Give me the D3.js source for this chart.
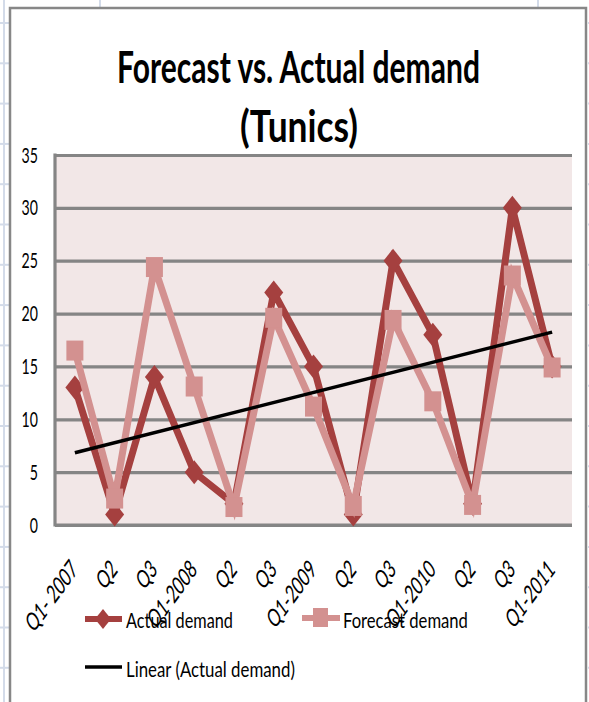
<!DOCTYPE html>
<html><head><meta charset="utf-8">
<script src="https://cdn.jsdelivr.net/npm/d3@7/dist/d3.min.js"></script>
<style>
html,body{margin:0;padding:0;background:#fff;overflow:hidden;}
text{font-family:Lato,"Open Sans",sans-serif;}
</style></head>
<body>
<svg id="chart" width="589" height="702"></svg>
<script>
const categories = ["Q1- 2007","Q2","Q3","Q1-2008","Q2","Q3","Q1-2009","Q2","Q3","Q1-2010","Q2","Q3","Q1-2011"];
const actualDemand = [13, 1, 14, 5, 2, 22, 15, 1, 25, 18, 2, 30, 15];
const forecastDemand = [16.5, 2.5, 24.4, 13.1, 1.7, 19.6, 11.2, 1.8, 19.4, 11.7, 1.9, 23.6, 14.9];
const yTicks = [0, 5, 10, 15, 20, 25, 30, 35];
const titleLines = ["Forecast vs. Actual demand", "(Tunics)"];
const legendLabels = ["Actual demand", "Forecast demand", "Linear (Actual demand)"];

const svg = d3.select("#chart");
const W = 589, H = 702;
const plot = {left: 55, right: 572, top: 155, bottom: 525};

// horizontally scale a text (anchored at x=0 inside a translated group) to a target width
function fitWidth(g, target) {
  const t = g.select("text").node();
  const w = t.getComputedTextLength();
  d3.select(t).attr("transform", `scale(${target / w},1)`);
}
function squeeze(sel, factor) {
  sel.each(function () {
    const w = this.getComputedTextLength();
    d3.select(this).attr("textLength", w * factor).attr("lengthAdjust", "spacingAndGlyphs");
  });
}

// spreadsheet background
const sheet = svg.append("g").attr("stroke", "#d3dbe9").attr("stroke-width", 2);
sheet.append("line").attr("x1", 4).attr("x2", 4).attr("y1", 0).attr("y2", H);
d3.range(0, 17).forEach(i => {
  const yy = 23 + i * 40.3;
  sheet.append("line").attr("x1", 0).attr("x2", 9).attr("y1", yy).attr("y2", yy);
  sheet.append("line").attr("x1", 588).attr("x2", 589).attr("y1", yy).attr("y2", yy);
});
[100, 538].forEach(xx => sheet.append("line").attr("x1", xx).attr("x2", xx).attr("y1", 0).attr("y2", 7));

// chart area
svg.append("rect").attr("x", 10).attr("y", 8).attr("width", 576).attr("height", H + 10)
  .attr("fill", "#fff").attr("stroke", "#878787").attr("stroke-width", 2.5);

// title
[[titleLines[0], 298.5, 83, 363], [titleLines[1], 299, 142, 118]].forEach(([txt, cx, by, tw]) => {
  const g = svg.append("g").attr("transform", `translate(${cx},${by})`);
  g.append("text").attr("text-anchor", "middle").attr("font-weight", "bold").attr("font-size", 44)
    .attr("fill", "#000").text(txt);
  fitWidth(g, tw);
});

// scales
const x = d3.scalePoint().domain(d3.range(categories.length)).range([plot.left, plot.right]).padding(0.5);
const y = d3.scaleLinear().domain([0, 35]).range([plot.bottom, plot.top]);

// plot background
svg.append("rect").attr("x", plot.left).attr("y", plot.top)
  .attr("width", plot.right - plot.left).attr("height", plot.bottom - plot.top).attr("fill", "#f2e7e7");

// gridlines
const grid = svg.append("g").attr("transform", `translate(${plot.left},0)`)
  .call(d3.axisLeft(y).tickValues(yTicks).tickSize(-(plot.right - plot.left)).tickFormat(""));
grid.select(".domain").remove();
grid.selectAll("line").attr("stroke", "#858585").attr("stroke-width", 3.2);

// axes lines
svg.append("line").attr("x1", plot.left).attr("x2", plot.left).attr("y1", plot.top - 1.5).attr("y2", plot.bottom + 1.5)
  .attr("stroke", "#858585").attr("stroke-width", 3.2);
svg.append("line").attr("x1", plot.left).attr("x2", plot.right).attr("y1", plot.bottom).attr("y2", plot.bottom)
  .attr("stroke", "#858585").attr("stroke-width", 3.2);

// y tick labels
svg.append("g").selectAll("text").data(yTicks).join("text")
  .attr("x", 38).attr("y", d => y(d) + 7.5).attr("text-anchor", "end").attr("font-size", 21).attr("fill", "#000")
  .attr("textLength", d => String(d).length * 8.2).attr("lengthAdjust", "spacingAndGlyphs")
  .text(d => d);

// x tick labels
svg.append("g").selectAll("text").data(categories).join("text")
  .attr("transform", (d, i) => `translate(${x(i) + 4},${plot.bottom + 46}) scale(1,1.38) rotate(-45)`)
  .attr("text-anchor", "end").attr("font-size", 19).attr("fill", "#000")
  .text(d => d)
  .call(squeeze, 0.78);

// series
const colA = "#a5403f", colF = "#d39190";
const line = d3.line().x((d, i) => x(i)).y(d => y(d));
const diamond = (w, h) => `M0,${-h}L${w},0L0,${h}L${-w},0Z`;

svg.append("path").datum(actualDemand).attr("d", line).attr("fill", "none")
  .attr("stroke", colA).attr("stroke-width", 7).attr("stroke-linejoin", "miter");
svg.append("g").selectAll("path").data(actualDemand).join("path")
  .attr("transform", (d, i) => `translate(${x(i)},${y(d)})`).attr("d", diamond(9.5, 12)).attr("fill", colA);

svg.append("path").datum(forecastDemand).attr("d", line).attr("fill", "none")
  .attr("stroke", colF).attr("stroke-width", 7).attr("stroke-linejoin", "miter");
svg.append("g").selectAll("rect").data(forecastDemand).join("rect")
  .attr("x", (d, i) => x(i) - 8.5).attr("y", d => y(d) - 10).attr("width", 17).attr("height", 20).attr("fill", colF);

// linear trendline (least squares on actual demand)
const n = actualDemand.length;
const xs = d3.range(1, n + 1);
const mx = d3.mean(xs), my = d3.mean(actualDemand);
const slope = d3.sum(xs, (v, i) => (v - mx) * (actualDemand[i] - my)) / d3.sum(xs, v => (v - mx) ** 2);
const icpt = my - slope * mx;
svg.append("line")
  .attr("x1", x(0)).attr("y1", y(icpt + slope * 1))
  .attr("x2", x(n - 1)).attr("y2", y(icpt + slope * n))
  .attr("stroke", "#000").attr("stroke-width", 3.5);

// legend
const leg = svg.append("g");
leg.append("line").attr("x1", 85).attr("x2", 122).attr("y1", 619).attr("y2", 619).attr("stroke", colA).attr("stroke-width", 6);
leg.append("path").attr("transform", "translate(103,619)").attr("d", diamond(8, 10)).attr("fill", colA);
leg.append("line").attr("x1", 302).attr("x2", 340).attr("y1", 618).attr("y2", 618).attr("stroke", colF).attr("stroke-width", 6);
leg.append("rect").attr("x", 313).attr("y", 608).attr("width", 15).attr("height", 19).attr("fill", colF);
leg.append("line").attr("x1", 85).attr("x2", 122).attr("y1", 667).attr("y2", 667).attr("stroke", "#000").attr("stroke-width", 3.5);
[[legendLabels[0], 126, 628, 107], [legendLabels[1], 343, 628, 125], [legendLabels[2], 126, 677, 169]].forEach(([txt, lx, ly, tw]) => {
  const g = leg.append("g").attr("transform", `translate(${lx},${ly})`);
  g.append("text").attr("font-size", 22).attr("fill", "#000").text(txt);
  fitWidth(g, tw);
});
</script>
</body></html>
